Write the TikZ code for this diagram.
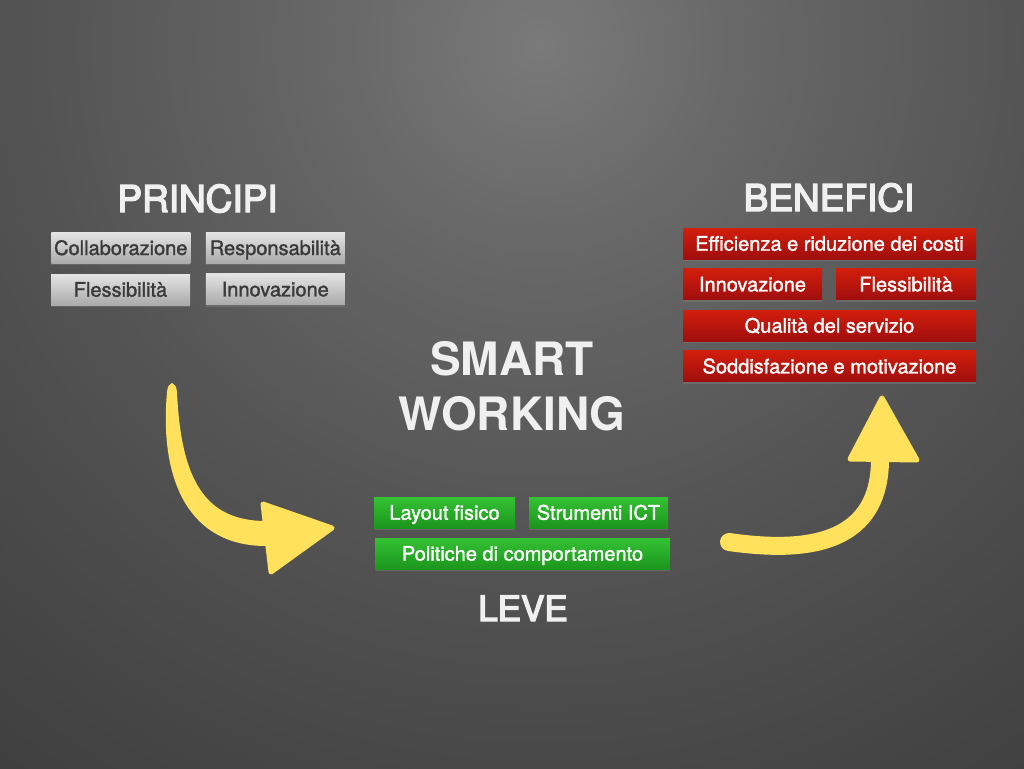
\documentclass[tikz,border=0pt]{standalone}
\usepackage{fontspec}
\setmainfont{TeX Gyre Heros}
\newfontfamily\boxfont{TeX Gyre Heros}[FakeBold=1.5]
\newfontfamily\titlefont{TeX Gyre Heros}[FakeBold=4]
\usetikzlibrary{shadows}
\definecolor{arrowyellow}{RGB}{255,225,92}
\definecolor{bg0}{RGB}{122,122,122}
\definecolor{bg1}{RGB}{104,104,104}
\definecolor{bg2}{RGB}{84,84,84}
\definecolor{bg3}{RGB}{68,68,68}
\definecolor{bg4}{RGB}{56,56,56}
\definecolor{bg5}{RGB}{47,47,47}
\definecolor{bg6}{RGB}{38,38,38}
\definecolor{greytop}{RGB}{228,228,228}
\definecolor{greybot}{RGB}{170,170,170}
\definecolor{greytext}{RGB}{58,58,58}
\definecolor{redtop}{RGB}{210,30,12}
\definecolor{redbot}{RGB}{160,14,14}
\definecolor{greentop}{RGB}{52,194,52}
\definecolor{greenbot}{RGB}{28,150,28}
\definecolor{titlewhite}{RGB}{240,240,240}
\pgfdeclareradialshading{bgshade}{\pgfpoint{0bp}{0bp}}{color(0bp)=(bg0); color(5bp)=(bg1); color(12.5bp)=(bg2); color(20bp)=(bg3); color(27.5bp)=(bg4); color(35bp)=(bg5); color(50bp)=(bg6)}
\begin{document}
\begin{tikzpicture}[x=1pt,y=-1pt,
  box/.style={minimum height=31pt, inner sep=0pt, text height=14.4pt, text depth=0pt,
    font=\boxfont\fontsize{20}{24}\selectfont,
    drop shadow={shadow xshift=0pt, shadow yshift=-2pt, opacity=0.45}},
  greybox/.style={box, minimum width=139pt, top color=greytop, bottom color=greybot, text=greytext},
  redbox/.style={box, top color=redtop, bottom color=redbot, text=white},
  greenbox/.style={box, top color=greentop, bottom color=greenbot, text=white},
  title/.style={font=\titlefont\fontsize{37}{40}\selectfont, text=titlewhite, anchor=base, inner sep=0pt},
  bigtitle/.style={font=\fontsize{46}{50}\selectfont\bfseries, text=titlewhite, anchor=base, inner sep=0pt},
  yarrow/.style={fill=arrowyellow, draw=arrowyellow, line join=round}
]
\useasboundingbox (0,0) rectangle (1024,768);
\fill[bg6] (0,0) rectangle (1024,768);
\begin{scope}
  \clip (0,0) rectangle (1024,768);
  \shade[shading=bgshade] (540,45) circle[radius=1000];
\end{scope}

% titles
\node[title] (ptitle) at (197.5,212) {PRINCIPI};
\node[title] (btitle) at (829,211) {BENEFICI};
\node[bigtitle] (s1) at (512,375) {SMART};
\node[bigtitle] (s2) at (512,430) {WORKING};
\node[title,font=\titlefont\fontsize{35}{40}\selectfont] (ltitle) at (523,621) {LEVE};

% grey boxes
\node[greybox] (g1) at (120.8,247.8) {Collaborazione};
\node[greybox] (g2) at (275.3,247.8) {Responsabilità};
\node[greybox] (g3) at (120.5,289.5) {Flessibilità};
\node[greybox] (g4) at (275.3,289.2) {Innovazione};

% red boxes
\node[redbox, minimum width=293pt] (r1) at (829.5,243.5) {Efficienza e riduzione dei costi};
\node[redbox, minimum width=139pt] (r2) at (752.5,284.2) {Innovazione};
\node[redbox, minimum width=140pt] (r3) at (906,284.2) {Flessibilità};
\node[redbox, minimum width=293pt] (r4) at (829.5,325.5) {Qualità del servizio};
\node[redbox, minimum width=293pt] (r5) at (829.5,366.2) {Soddisfazione e motivazione};

% green boxes
\node[greenbox, minimum width=141pt] (v1) at (444.5,512.5) {Layout fisico};
\node[greenbox, minimum width=139pt] (v2) at (598.5,512.5) {Strumenti ICT};
\node[greenbox, minimum width=295pt] (v3) at (522.5,553.5) {Politiche di comportamento};

% left arrow
\fill[arrowyellow] (167,392) .. controls (159,482) and (190,546) .. (266,546)
  -- (266,521) .. controls (205,521) and (181,480) .. (177,392)
  .. controls (176,386) .. (172,383) .. controls (168,386) .. (167,392) -- cycle;
\draw[yarrow, line width=5pt] (263,504) -- (332,528) -- (271,572) -- cycle;

% right arrow
\draw[arrowyellow, line width=18pt, line cap=round] (729,542) .. controls (800,552) and (878,548) .. (880,462);
\draw[yarrow, line width=5pt] (882,398) -- (850,459) -- (917,460) -- cycle;
\end{tikzpicture}
\end{document}
